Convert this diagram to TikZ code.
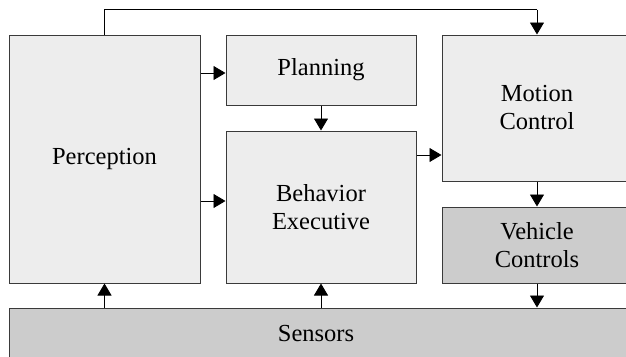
\documentclass[tikz,border=0pt]{standalone}
\usepackage{fontspec}
\setmainfont{Liberation Serif}
\usetikzlibrary{arrows.meta}
\definecolor{lightbox}{HTML}{EDEDED}
\definecolor{darkbox}{HTML}{CCCCCC}
\definecolor{edge}{HTML}{3A3A3A}
\begin{document}
\begin{tikzpicture}[x=1pt,y=-1pt,
  blk/.style={draw=edge,line width=1pt,fill=lightbox,inner sep=0pt,align=center,
    font=\fontsize{24.5}{28}\selectfont},
  dblk/.style={blk,fill=darkbox},
  conn/.style={draw=black,line width=0.9pt,-{Triangle[length=12pt,width=14pt]}},
  plain/.style={draw=black,line width=0.9pt}]
\useasboundingbox (0,0) rectangle (626,356);
\node[blk,minimum width=191pt,minimum height=248pt] (perc) at (104.5,159) {Perception};
\node[blk,minimum width=190pt,minimum height=70pt] (plan) at (321,70) {Planning};
\node[blk,minimum width=190pt,minimum height=152pt] (beh) at (321,207) {Behavior\\Executive};
\node[blk,minimum width=190pt,minimum height=146pt] (mot) at (537,108) {Motion\\Control};
\node[dblk,minimum width=190pt,minimum height=76pt] (veh) at (537,245) {Vehicle\\Controls};
\node[dblk,minimum width=630pt,minimum height=52pt] (sens) at (324,334) {\hspace*{-16pt}Sensors};
\coordinate (tl) at (104.5,9.5);
\coordinate (tr) at (537,9.5);
\draw[plain] (perc.north) -- (tl) -- (tr);
\draw[conn] (tr) -- (mot.north);
\draw[conn] (perc.east |- 0,73) -- (plan.west |- 0,73);
\draw[conn] (perc.east |- 0,201) -- (beh.west |- 0,201);
\draw[conn] (plan.south) -- (beh.north);
\draw[conn] (beh.east |- 0,155) -- (mot.west |- 0,155);
\draw[conn] (mot.south) -- (veh.north);
\draw[conn] (veh.south) -- (sens.north -| veh.south);
\draw[conn] (sens.north -| perc.south) -- (perc.south);
\draw[conn] (sens.north -| beh.south) -- (beh.south);
\end{tikzpicture}
\end{document}
